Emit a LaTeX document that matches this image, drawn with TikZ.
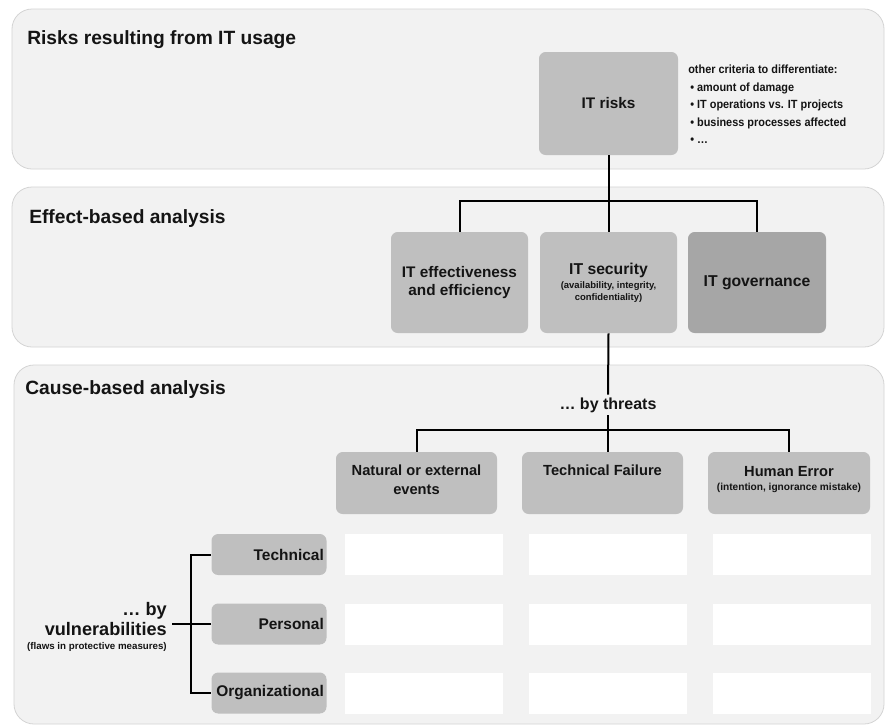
\documentclass[tikz,border=0pt]{standalone}
\usepackage{fontspec}
\setmainfont{Liberation Sans}
\definecolor{panelfill}{HTML}{F2F2F2}
\definecolor{paneledge}{HTML}{D4D4D4}
\definecolor{boxfill}{HTML}{BFBFBF}
\definecolor{darkbox}{HTML}{A6A6A6}
\definecolor{ink}{HTML}{141414}
\begin{document}
\begin{tikzpicture}[x=0.75pt,y=-0.75pt,
  panel/.style={fill=panelfill,draw=paneledge,line width=0.6pt,rounded corners=15pt},
  bw/.style={minimum width=#1*0.75pt},
  bh/.style={minimum height=#1*0.75pt},
  box/.style={fill=boxfill,draw=none,rounded corners=5pt,align=center,text=ink,inner sep=0pt},
  cell/.style={fill=white,draw=none,inner sep=0pt,minimum width=158*0.75pt,minimum height=41*0.75pt},
  rowbox/.style={box,align=right,inner xsep=2pt,text width=82.25pt,minimum height=41*0.75pt,
     font=\bfseries\fontsize{11.6}{13}\selectfont},
  conn/.style={draw=black,line width=1.5pt},
  title/.style={anchor=west,text=ink,font=\bfseries\fontsize{14.4}{17}\selectfont,inner sep=0pt},
  ttext/.style={anchor=north,align=center,inner sep=0pt,text=ink,font=\bfseries\fontsize{11}{14.5}\selectfont}
]
\useasboundingbox (0,0) rectangle (885,726);
\fill[white] (0,0) rectangle (885,726);

% panels
\path[panel] (12,9) rectangle (884,169);
\path[panel] (12,187) rectangle (884,347);
\path[panel] (14,365) rectangle (884,724);

% titles
\node[title] (t1) at (27,40) {Risks resulting from IT usage};
\node[title] (t2) at (29,219) {Effect-based analysis};
\node[title] (t3) at (25,390) {Cause-based analysis};

% IT risks
\node[box,bw=139,bh=103,font=\bfseries\fontsize{11.5}{14}\selectfont] (risks) at (608.5,103.5) {IT risks};
\node[anchor=north west,align=left,inner sep=0pt,text=ink,
      font=\bfseries\addfontfeature{FakeStretch=0.92}\fontsize{8.9}{13.1}\selectfont] (crit) at (688,65)
  {other criteria to differentiate:\\
   \,\textbullet\ amount of damage\\
   \,\textbullet\ IT operations vs. IT projects\\
   \,\textbullet\ business processes affected\\
   \,\textbullet\ …};

% effect-based boxes
\node[box,bw=137,bh=101,font=\bfseries\fontsize{11.5}{13.5}\selectfont] (eff) at (459.5,282.5) {IT effectiveness\\and efficiency};
\node[box,bw=137,bh=101,font=\bfseries\fontsize{7.1}{7.8}\selectfont] (sec) at (608.5,282.5)
  {\fontsize{11.8}{13}\selectfont IT security\\[3pt]
   (availability, integrity,\\[0.9pt]
   confidentiality)};
\node[box,fill=darkbox,bw=138,bh=101,font=\bfseries\fontsize{11.8}{14}\selectfont] (gov) at (757,282.5) {IT governance};

\draw[conn] (risks.south) -- (sec.north);
\draw[conn] (eff.north) -- ++(0,-31) -| (gov.north);

% threats
\node[text=ink,inner sep=2pt,font=\bfseries\fontsize{12}{14}\selectfont] (threats) at (608,405) {… by threats};
\node[box,bw=161,bh=62] (nat) at (416.5,483) {};
\node[box,bw=161,bh=62] (tf) at (602.5,483) {};
\node[box,bw=162,bh=62] (hum) at (789,483) {};
\node[ttext] (natt) at ([yshift=-13*0.75pt]nat.north) {Natural or external\\events};
\node[ttext] (tft) at ([yshift=-13*0.75pt]tf.north) {Technical Failure};
\node[ttext,font=\bfseries\fontsize{7.6}{8.5}\selectfont] (humt) at ([yshift=-14*0.75pt]hum.north)
  {\fontsize{11}{12}\selectfont Human Error\\[2.6pt]
   (intention, ignorance mistake)};

\draw[conn] (sec.south) -- (threats.north);
\draw[conn] (threats.south) -- (threats.south |- tf.north);
\draw[conn] (nat.north) -- ++(0,-22) -| (hum.north);

% vulnerabilities rows
\node[rowbox] (tech) at (269,554.5) {Technical};
\node[rowbox] (pers) at (269,624) {Personal};
\node[rowbox] (org) at (269,693) {Organizational};

\foreach \r/\y in {1/554.5,2/624,3/693}{
  \node[cell] (c\r1) at (424,\y) {};
  \node[cell] (c\r2) at (608,\y) {};
  \node[cell] (c\r3) at (791.5,\y) {};
}

\node[anchor=east,align=right,inner sep=0pt,text=ink,font=\bfseries\fontsize{13.6}{14.3}\selectfont] (vul) at (167,619) {… by\\vulnerabilities};
\node[anchor=north east,inner sep=0pt,text=ink,font=\bfseries\fontsize{7.3}{8}\selectfont] (flaws) at (167,642) {(flaws in protective measures)};

\draw[conn] (tech.west) -- ++(-20,0) |- (org.west);
\draw[conn] (pers.west) -- ([xshift=5*0.75pt]pers.west -| vul.east);
\end{tikzpicture}
\end{document}
